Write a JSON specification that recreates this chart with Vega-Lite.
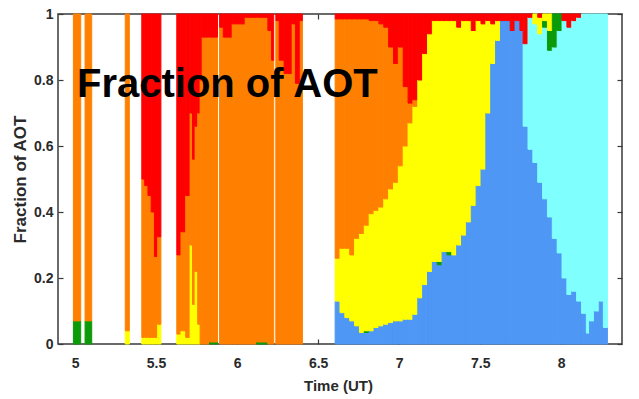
{
  "$schema": "https://vega.github.io/schema/vega-lite/v6.json",
  "width": 564,
  "height": 330,
  "autosize": {"type": "none"},
  "padding": {"left": 58, "top": 14, "right": 17, "bottom": 55},
  "background": "white",
  "config": {
    "view": {"stroke": "#3a3a3a", "strokeWidth": 1.5},
    "axis": {"grid": false, "domain": false, "labelOverlap": false, "labelFlush": false,
      "labelFont": "Liberation Sans", "labelFontWeight": "bold", "labelFontSize": 14, "labelColor": "#2a2a2a",
      "titleFont": "Liberation Sans", "titleFontWeight": "bold", "titleColor": "#2a2a2a",
      "tickColor": "#3a3a3a", "tickSize": -5, "tickWidth": 1.2}
  },
  "datasets": {
    "classes": [
      {"cls": "blue", "rank": 1}, {"cls": "cyan", "rank": 2}, {"cls": "green", "rank": 3},
      {"cls": "yellow", "rank": 4}, {"cls": "orange", "rank": 5}, {"cls": "red", "rank": 6}
    ],
    "columns": [
      {"t0": 4.99, "t1": 5.035, "green": 0.07, "orange": 0.93},
      {"t0": 5.062, "t1": 5.103, "green": 0.07, "orange": 0.93},
      {"t0": 5.31, "t1": 5.335, "yellow": 0.04, "orange": 0.96},
      {"t0": 5.412, "t1": 5.43, "yellow": 0.02, "orange": 0.48, "red": 0.5},
      {"t0": 5.43, "t1": 5.45, "yellow": 0.02, "orange": 0.46, "red": 0.52},
      {"t0": 5.45, "t1": 5.47, "yellow": 0.02, "orange": 0.43, "red": 0.55},
      {"t0": 5.47, "t1": 5.49, "yellow": 0.02, "orange": 0.38, "red": 0.6},
      {"t0": 5.49, "t1": 5.51, "yellow": 0.02, "orange": 0.245, "red": 0.735},
      {"t0": 5.51, "t1": 5.53, "yellow": 0.06, "orange": 0.265, "red": 0.675},
      {"t0": 5.628, "t1": 5.654, "yellow": 0.03, "orange": 0.24, "red": 0.73},
      {"t0": 5.654, "t1": 5.683, "yellow": 0.04, "orange": 0.3, "red": 0.66},
      {"t0": 5.683, "t1": 5.71, "yellow": 0.02, "orange": 0.43, "red": 0.55},
      {"t0": 5.71, "t1": 5.725, "yellow": 0.3, "orange": 0.4, "red": 0.3},
      {"t0": 5.725, "t1": 5.741, "yellow": 0.12, "orange": 0.44, "red": 0.44},
      {"t0": 5.741, "t1": 5.757, "yellow": 0.22, "orange": 0.44, "red": 0.34},
      {"t0": 5.757, "t1": 5.772, "yellow": 0.06, "orange": 0.64, "red": 0.3},
      {"t0": 5.772, "t1": 5.785, "orange": 0.8, "red": 0.2},
      {"t0": 5.785, "t1": 5.83, "orange": 0.93, "red": 0.07},
      {"t0": 5.83, "t1": 5.879, "green": 0.006, "orange": 0.924, "red": 0.07},
      {"t0": 5.892, "t1": 5.915, "orange": 0.96, "red": 0.04},
      {"t0": 5.915, "t1": 5.97, "orange": 0.93, "red": 0.07},
      {"t0": 5.97, "t1": 6.05, "orange": 0.97, "red": 0.03},
      {"t0": 6.05, "t1": 6.12, "orange": 0.99, "red": 0.01},
      {"t0": 6.12, "t1": 6.19, "green": 0.006, "orange": 0.984, "red": 0.01},
      {"t0": 6.19, "t1": 6.213, "orange": 0.95, "red": 0.05},
      {"t0": 6.213, "t1": 6.226, "orange": 0.86, "red": 0.14},
      {"t0": 6.239, "t1": 6.26, "orange": 0.98, "red": 0.02},
      {"t0": 6.26, "t1": 6.29, "orange": 0.86, "red": 0.14},
      {"t0": 6.29, "t1": 6.34, "orange": 0.82, "red": 0.18},
      {"t0": 6.34, "t1": 6.36, "orange": 0.97, "red": 0.03},
      {"t0": 6.36, "t1": 6.39, "orange": 0.79, "red": 0.21},
      {"t0": 6.39, "t1": 6.403, "orange": 0.98, "red": 0.02},
      {"t0": 6.605, "t1": 6.635, "blue": 0.13, "yellow": 0.13, "orange": 0.725, "red": 0.015},
      {"t0": 6.635, "t1": 6.665, "blue": 0.095, "yellow": 0.195, "orange": 0.695, "red": 0.015},
      {"t0": 6.665, "t1": 6.695, "blue": 0.08, "yellow": 0.21, "orange": 0.695, "red": 0.015},
      {"t0": 6.695, "t1": 6.725, "blue": 0.07, "yellow": 0.2, "orange": 0.715, "red": 0.015},
      {"t0": 6.725, "t1": 6.755, "blue": 0.055, "yellow": 0.265, "orange": 0.665, "red": 0.015},
      {"t0": 6.755, "t1": 6.785, "blue": 0.035, "yellow": 0.3, "orange": 0.65, "red": 0.015},
      {"t0": 6.785, "t1": 6.815, "blue": 0.035, "green": 0.005, "yellow": 0.32, "orange": 0.625, "red": 0.015},
      {"t0": 6.815, "t1": 6.845, "blue": 0.04, "yellow": 0.355, "orange": 0.585, "red": 0.02},
      {"t0": 6.845, "t1": 6.875, "blue": 0.05, "yellow": 0.355, "orange": 0.575, "red": 0.02},
      {"t0": 6.875, "t1": 6.905, "blue": 0.055, "yellow": 0.36, "orange": 0.555, "red": 0.03},
      {"t0": 6.905, "t1": 6.935, "blue": 0.06, "yellow": 0.38, "orange": 0.52, "red": 0.04},
      {"t0": 6.935, "t1": 6.965, "blue": 0.065, "yellow": 0.405, "orange": 0.43, "red": 0.1},
      {"t0": 6.965, "t1": 6.995, "blue": 0.07, "yellow": 0.42, "orange": 0.36, "red": 0.15},
      {"t0": 6.995, "t1": 7.025, "blue": 0.07, "yellow": 0.47, "orange": 0.36, "red": 0.1},
      {"t0": 7.025, "t1": 7.055, "blue": 0.075, "yellow": 0.525, "orange": 0.18, "red": 0.22},
      {"t0": 7.055, "t1": 7.085, "blue": 0.075, "yellow": 0.595, "orange": 0.06, "red": 0.27},
      {"t0": 7.085, "t1": 7.115, "blue": 0.09, "yellow": 0.63, "orange": 0.02, "red": 0.26},
      {"t0": 7.115, "t1": 7.145, "blue": 0.14, "yellow": 0.66, "red": 0.2},
      {"t0": 7.145, "t1": 7.175, "blue": 0.18, "yellow": 0.7, "red": 0.12},
      {"t0": 7.175, "t1": 7.205, "blue": 0.22, "yellow": 0.72, "red": 0.06},
      {"t0": 7.205, "t1": 7.235, "blue": 0.25, "yellow": 0.73, "red": 0.02},
      {"t0": 7.235, "t1": 7.265, "blue": 0.24, "green": 0.01, "yellow": 0.73, "red": 0.02},
      {"t0": 7.265, "t1": 7.295, "blue": 0.28, "yellow": 0.7, "red": 0.02},
      {"t0": 7.295, "t1": 7.325, "blue": 0.27, "green": 0.01, "yellow": 0.7, "red": 0.02},
      {"t0": 7.325, "t1": 7.355, "blue": 0.27, "yellow": 0.71, "red": 0.02},
      {"t0": 7.355, "t1": 7.385, "blue": 0.3, "yellow": 0.66, "red": 0.04},
      {"t0": 7.385, "t1": 7.415, "blue": 0.33, "yellow": 0.65, "red": 0.02},
      {"t0": 7.415, "t1": 7.445, "blue": 0.37, "yellow": 0.61, "red": 0.02},
      {"t0": 7.445, "t1": 7.475, "blue": 0.42, "yellow": 0.53, "red": 0.05},
      {"t0": 7.475, "t1": 7.505, "blue": 0.48, "yellow": 0.5, "red": 0.02},
      {"t0": 7.505, "t1": 7.535, "blue": 0.53, "yellow": 0.44, "red": 0.03},
      {"t0": 7.535, "t1": 7.565, "blue": 0.7, "yellow": 0.28, "red": 0.02},
      {"t0": 7.565, "t1": 7.595, "blue": 0.85, "yellow": 0.12, "red": 0.03},
      {"t0": 7.595, "t1": 7.625, "blue": 0.92, "yellow": 0.06, "red": 0.02},
      {"t0": 7.625, "t1": 7.655, "blue": 0.98, "red": 0.02},
      {"t0": 7.655, "t1": 7.685, "blue": 0.98, "red": 0.02},
      {"t0": 7.685, "t1": 7.715, "blue": 0.95, "red": 0.05},
      {"t0": 7.715, "t1": 7.745, "blue": 0.98, "red": 0.02},
      {"t0": 7.745, "t1": 7.765, "blue": 0.95, "red": 0.05},
      {"t0": 7.765, "t1": 7.795, "blue": 0.66, "cyan": 0.25, "red": 0.09},
      {"t0": 7.795, "t1": 7.825, "blue": 0.59, "cyan": 0.4, "red": 0.01},
      {"t0": 7.825, "t1": 7.855, "blue": 0.55, "cyan": 0.42, "yellow": 0.03},
      {"t0": 7.855, "t1": 7.885, "blue": 0.49, "cyan": 0.45, "yellow": 0.05, "red": 0.01},
      {"t0": 7.885, "t1": 7.915, "blue": 0.44, "cyan": 0.52, "green": 0.02, "yellow": 0.02},
      {"t0": 7.915, "t1": 7.945, "blue": 0.385, "cyan": 0.505, "green": 0.06, "yellow": 0.05},
      {"t0": 7.945, "t1": 7.975, "blue": 0.32, "cyan": 0.58, "green": 0.1},
      {"t0": 7.975, "t1": 8.005, "blue": 0.276, "cyan": 0.674, "green": 0.05},
      {"t0": 8.005, "t1": 8.035, "blue": 0.2, "cyan": 0.78, "red": 0.02},
      {"t0": 8.035, "t1": 8.065, "blue": 0.15, "cyan": 0.81, "red": 0.04},
      {"t0": 8.065, "t1": 8.095, "blue": 0.16, "cyan": 0.82, "red": 0.02},
      {"t0": 8.095, "t1": 8.125, "blue": 0.13, "cyan": 0.86, "red": 0.01},
      {"t0": 8.125, "t1": 8.155, "blue": 0.093, "cyan": 0.907},
      {"t0": 8.155, "t1": 8.175, "blue": 0.033, "cyan": 0.967},
      {"t0": 8.175, "t1": 8.205, "blue": 0.07, "cyan": 0.93},
      {"t0": 8.205, "t1": 8.235, "blue": 0.1, "cyan": 0.9},
      {"t0": 8.235, "t1": 8.26, "blue": 0.13, "cyan": 0.87},
      {"t0": 8.26, "t1": 8.285, "blue": 0.05, "cyan": 0.95}
    ]
  },
  "layer": [
    {
      "data": {"name": "columns"},
      "transform": [
        {"fold": ["blue", "cyan", "green", "yellow", "orange", "red"], "as": ["cls", "v"]},
        {"filter": "datum.v > 0"},
        {"lookup": "cls", "from": {"data": {"name": "classes"}, "key": "cls", "fields": ["rank"]}},
        {"stack": "v", "groupby": ["t0"], "sort": [{"field": "rank", "order": "ascending"}], "as": ["f0", "f1"]}
      ],
      "mark": {"type": "rect", "strokeWidth": 1},
      "encoding": {
        "x": {"field": "t0", "type": "quantitative",
          "scale": {"domain": [4.895, 8.375], "nice": false, "zero": false},
          "axis": {"orient": "bottom", "values": [5, 5.5, 6, 6.5, 7, 7.5, 8], "format": "~g",
            "labelPadding": 17, "title": "Time (UT)", "titleFontSize": 15,
            "titleX": 280, "titleY": 41, "titleBaseline": "middle", "titleAlign": "center"}},
        "x2": {"field": "t1"},
        "y": {"field": "f0", "type": "quantitative",
          "scale": {"domain": [0, 1], "nice": false, "zero": false},
          "axis": {"orient": "left", "values": [0, 0.2, 0.4, 0.6, 0.8, 1], "format": "~g",
            "labelPadding": 10, "title": "Fraction of AOT", "titleFontSize": 17,
            "titleX": -38, "titleY": 165, "titleAngle": -90, "titleBaseline": "middle", "titleAlign": "center"}},
        "y2": {"field": "f1"},
        "color": {"field": "cls", "type": "nominal", "legend": null,
          "scale": {"domain": ["blue", "cyan", "green", "yellow", "orange", "red"],
            "range": ["#4f97f5", "#80ffff", "#0a9a0a", "#ffff00", "#ff8000", "#ff0000"]}},
        "stroke": {"field": "cls", "type": "nominal", "legend": null,
          "scale": {"domain": ["blue", "cyan", "green", "yellow", "orange", "red"],
            "range": ["#4f97f5", "#80ffff", "#0a9a0a", "#ffff00", "#ff8000", "#ff0000"]}}
      }
    },
    {
      "data": {"values": [{"label": "Fraction of AOT", "t": 5.012, "f": 0.748}]},
      "mark": {"type": "text", "align": "left", "baseline": "alphabetic", "font": "Liberation Sans",
        "fontWeight": "bold", "fontSize": 40, "color": "#000000"},
      "encoding": {
        "x": {"field": "t", "type": "quantitative",
          "axis": {"orient": "top", "values": [5, 5.5, 6, 6.5, 7, 7.5, 8], "labels": false, "title": null}},
        "y": {"field": "f", "type": "quantitative",
          "axis": {"orient": "right", "values": [0, 0.2, 0.4, 0.6, 0.8, 1], "labels": false, "title": null}},
        "text": {"field": "label"}
      }
    }
  ],
  "resolve": {"axis": {"x": "independent", "y": "independent"}}
}
